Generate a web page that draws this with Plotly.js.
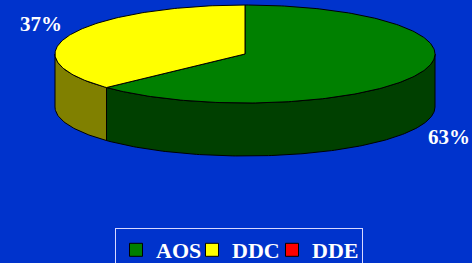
<!DOCTYPE html>
<html><head><meta charset="utf-8">
<script src="https://cdn.plot.ly/plotly-3.0.1.min.js"></script>
<style>html,body{margin:0;padding:0;background:#0033cc;overflow:hidden;}#chart{width:472px;height:280px;}</style>
</head><body><div id="chart"></div>
<script>
const categories = ['AOS', 'DDC', 'DDE'];
const values = [63, 37, 0];
const topColors = ['#008000', '#ffff00', '#ff0000'];
const sideColors = ['#004000', '#808000', '#800000'];
const legendWidths = [31, 35, 45];

// geometry (layout)
const W = 472, H = 280;
const CX = 245, CY = 54, RX = 190, RY = 49, DEPTH = 53;
const total = values.reduce((a, b) => a + b, 0);

function pt(deg, dy) {
  const r = deg * Math.PI / 180;
  return [CX + RX * Math.cos(r), CY - RY * Math.sin(r) + (dy || 0)];
}
function arc(a0, a1, dy) {
  const n = Math.max(2, Math.ceil(Math.abs(a1 - a0)));
  const out = [];
  for (let i = 0; i <= n; i++) out.push(pt(a0 + (a1 - a0) * i / n, dy));
  return out;
}

const sideTraces = [], topTraces = [], legendTraces = [], labelX = [], labelY = [], labelT = [];
let start = 90; // clockwise from 12 o'clock
values.forEach((v, i) => {
  if (v <= 0) return;
  const sweep = v / total * 360;
  const a1 = start, a0 = start - sweep;
  const pts = [[CX, CY]].concat(arc(a1, a0)).concat([[CX, CY]]);
  topTraces.push({
    type: 'scatter', mode: 'lines', x: pts.map(p => p[0]), y: pts.map(p => p[1]),
    fill: 'toself', fillcolor: topColors[i], line: {color: '#000', width: 1},
    hoverinfo: 'skip', showlegend: false
  });
  for (let k = -2; k <= 1; k++) {
    const lo = Math.max(a0, 180 + 360 * k), hi = Math.min(a1, 360 + 360 * k);
    if (hi > lo) {
      const s = arc(lo, hi, 0).concat(arc(hi, lo, DEPTH));
      s.push(s[0]);
      sideTraces.push({
        type: 'scatter', mode: 'lines', x: s.map(p => p[0]), y: s.map(p => p[1]),
        fill: 'toself', fillcolor: sideColors[i], line: {color: '#000', width: 1},
        hoverinfo: 'skip', showlegend: false
      });
    }
  }
  const mid = (a0 + a1) / 2, mr = mid * Math.PI / 180;
  const s = Math.sin(mr);
  labelX.push(CX + 1.17 * RX * Math.cos(mr));
  labelY.push(CY - 1.45 * RY * s + (s < 0 ? DEPTH : 0) + (s < 0 ? 4 : 0));
  labelT.push(Math.round(v / total * 100) + '%');
  start = a0;
});

categories.forEach((c, i) => {
  legendTraces.push({
    type: 'scatter', mode: 'markers', x: [null], y: [null], name: c,
    marker: {symbol: 'square', size: 13, color: topColors[i], line: {color: '#000', width: 1}},
    legendwidth: legendWidths[i],
    showlegend: true, hoverinfo: 'skip'
  });
});

const labelTrace = {
  type: 'scatter', mode: 'text', x: labelX, y: labelY, text: labelT,
  textfont: {family: 'Liberation Serif', size: 21, color: '#ffffff', weight: 'bold'},
  textposition: 'middle center', hoverinfo: 'skip', showlegend: false
};

const layout = {
  width: W, height: H,
  margin: {l: 0, r: 0, t: 0, b: 0, autoexpand: false},
  paper_bgcolor: '#0033cc', plot_bgcolor: '#0033cc',
  xaxis: {range: [0, W], visible: false, fixedrange: true},
  yaxis: {range: [H, 0], visible: false, fixedrange: true},
  showlegend: true,
  legend: {
    orientation: 'h', x: 115 / W, xanchor: 'left', y: (H - 228) / H, yanchor: 'top',
    bgcolor: '#0033cc', bordercolor: '#d8d8ff', borderwidth: 1,
    font: {family: 'Liberation Serif', size: 22, color: '#ffffff', weight: 'bold'},
    itemwidth: 30, tracegroupgap: 0
  }
};

Plotly.newPlot('chart', sideTraces.concat(topTraces).concat([labelTrace]).concat(legendTraces), layout, {staticPlot: true, displayModeBar: false});
</script></body></html>
